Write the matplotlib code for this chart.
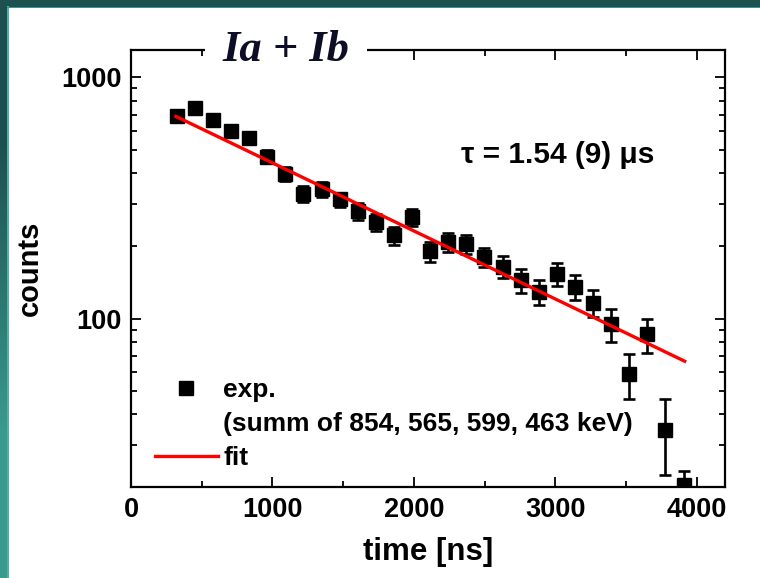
import numpy as np
import matplotlib
matplotlib.use('Agg')
import matplotlib.pyplot as plt
from matplotlib.lines import Line2D
from matplotlib.colors import LinearSegmentedColormap
from matplotlib.patches import Rectangle

plt.rcParams['font.family'] = ['Liberation Sans', 'DejaVu Sans']
plt.rcParams['font.weight'] = 'bold'

# data (time in ns, counts)
times = [323, 451, 579, 707, 835, 963, 1091, 1219, 1347, 1475, 1603, 1731, 1859, 1987, 2115,
         2243, 2371, 2499, 2627, 2755, 2883, 3011, 3139, 3267, 3395, 3523, 3651, 3779, 3907]
counts = [695, 749, 668, 599, 562, 470, 398, 329, 344, 312, 279, 251, 221, 263, 190,
          207, 204, 180, 164, 144, 129, 153, 135, 116, 95, 59, 86, 34.5, 20.3]
errors = [38, 40, 35, 33, 31, 30, 26, 24, 24, 21, 22, 21, 19, 21, 18,
          19, 18, 16, 17, 16, 15, 17, 16, 15, 15, 12.5, 14, 12, 3]

# fit line end points (straight on log axis)
fit_t = [318, 3915]
fit_counts = [689, 66.5]

xticks = [0, 1000, 2000, 3000, 4000]

fig = plt.figure(figsize=(7.6, 5.78), dpi=100, facecolor='white')

# teal frame of the slide
W, H = 760., 578.
strip = fig.add_axes([0, 0, 8 / W, 1])
cmap = LinearSegmentedColormap.from_list('teal', ['#1e4f4f', '#3a9a8c'])
strip.imshow([[0], [1]], cmap=cmap, aspect='auto', interpolation='bilinear')
strip.set_axis_off()
fig.patches.append(Rectangle((0, 1 - 7 / H), 1, 7 / H, transform=fig.transFigure,
                             facecolor='#1f5050', edgecolor='none', zorder=5))
fig.patches.append(Rectangle((7 / W, 0), 1.5 / W, 1 - 6 / H, transform=fig.transFigure,
                             facecolor='#45b5ac', edgecolor='none', zorder=6))
fig.patches.append(Rectangle((7 / W, 1 - 8 / H), 1, 1.5 / H, transform=fig.transFigure,
                             facecolor='#2f9a94', edgecolor='none', zorder=6))

ax = fig.add_axes([131 / W, 91 / H, 594 / W, 437 / H])

ax.errorbar(times, counts, yerr=errors, fmt='s', color='black', ms=9.8,
            elinewidth=1.9, capsize=4.6, capthick=1.9, zorder=3)
ax.plot(fit_t, fit_counts, color='#ff0000', lw=2.4, zorder=4)

ax.set_yscale('log')
ax.set_xlim(0, 4200)
ax.set_ylim(20, 1300)
ax.set_xticks(xticks)
ax.set_xticks([500, 1500, 2500, 3500], minor=True)
ax.set_yticks([100, 1000])
ax.set_yticklabels(['100', '1000'])
ax.yaxis.set_minor_formatter(matplotlib.ticker.NullFormatter())

for s in ax.spines.values():
    s.set_linewidth(1.6)
ax.tick_params(which='both', direction='in', top=True, right=True, width=1.3)
ax.tick_params(which='major', length=7, labelsize=19.5, pad=7)
ax.tick_params(which='minor', length=4)

ax.set_xlabel('time [ns]', fontsize=22.5, fontweight='bold', labelpad=10)
ax.set_ylabel('counts', fontsize=21, fontweight='bold', labelpad=12)

ax.text(0.261, 1.0, 'Ia + Ib', transform=ax.transAxes, ha='center', va='center',
        family='Liberation Serif', style='italic', fontweight='bold', fontsize=32,
        color='#0d0d26', zorder=5, clip_on=False,
        bbox=dict(boxstyle='square,pad=0.4', facecolor='white', edgecolor='none'))

ax.text(0.556, 0.76, 'τ = 1.54 (9) μs', transform=ax.transAxes, ha='left', va='center',
        fontsize=21.5, fontweight='bold')

h_exp = Line2D([], [], ls='none', marker='s', color='black', ms=9.8)
h_none = Line2D([], [], ls='none')
h_fit = Line2D([], [], color='#ff0000', lw=2.4)
ax.legend([h_exp, h_none, h_fit],
          ['exp.', '(summ of 854, 565, 599, 463 keV)', 'fit'],
          loc='upper left', bbox_to_anchor=(0.04, 0.25), frameon=False,
          handlelength=2.4, handletextpad=0.2, labelspacing=0.38,
          borderpad=0, borderaxespad=0, prop={'weight': 'bold', 'size': 19})

fig.savefig('out.png', dpi=100, facecolor='white')
